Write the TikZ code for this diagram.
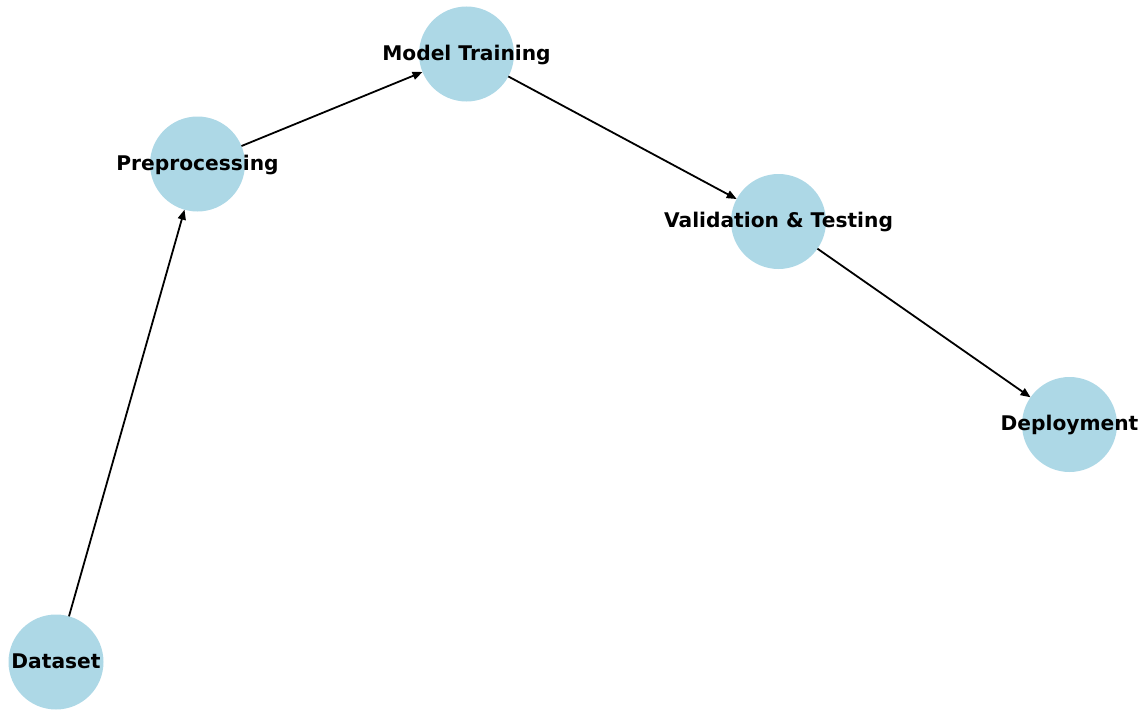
\documentclass[tikz,border=0pt]{standalone}
\usepackage{fontspec}
\setmainfont{DejaVu Sans}
\usetikzlibrary{arrows.meta}
\definecolor{nodeblue}{HTML}{ADD8E6}
\tikzset{
  stage/.style={circle, fill=nodeblue, minimum size=95pt, inner sep=0pt, outer sep=0pt},
  stagelabel/.style={font=\fontsize{20.2}{24}\selectfont\bfseries, text=black, inner sep=0pt,
    text height=0.74em, text depth=0pt, yshift=-2.5pt},
  flow/.style={draw=black, line width=1.8pt, -{Triangle[length=10pt,width=8pt]}}
}
\begin{document}
\begin{tikzpicture}[x=1pt,y=-1pt]
  \useasboundingbox (0,0) rectangle (1145,709);
  % pipeline stages
  \node[stage] (data) at (56,662) {};
  \node[stage] (prep) at (197.5,164) {};
  \node[stage] (train) at (466.5,54) {};
  \node[stage] (valid) at (778.5,221.5) {};
  \node[stage] (deploy) at (1069.5,424.5) {};
  % directed edges between stages
  \draw[flow] (data) -- (prep);
  \draw[flow] (prep) -- (train);
  \draw[flow] (train) -- (valid);
  \draw[flow] (valid) -- (deploy);
  % stage names
  \node[stagelabel] (dataT) at (data) {Dataset};
  \node[stagelabel] (prepT) at (prep) {Preprocessing};
  \node[stagelabel] (trainT) at (train) {Model Training};
  \node[stagelabel] (validT) at (valid) {Validation \& Testing};
  \node[stagelabel] (deployT) at (deploy) {Deployment};
\end{tikzpicture}
\end{document}
